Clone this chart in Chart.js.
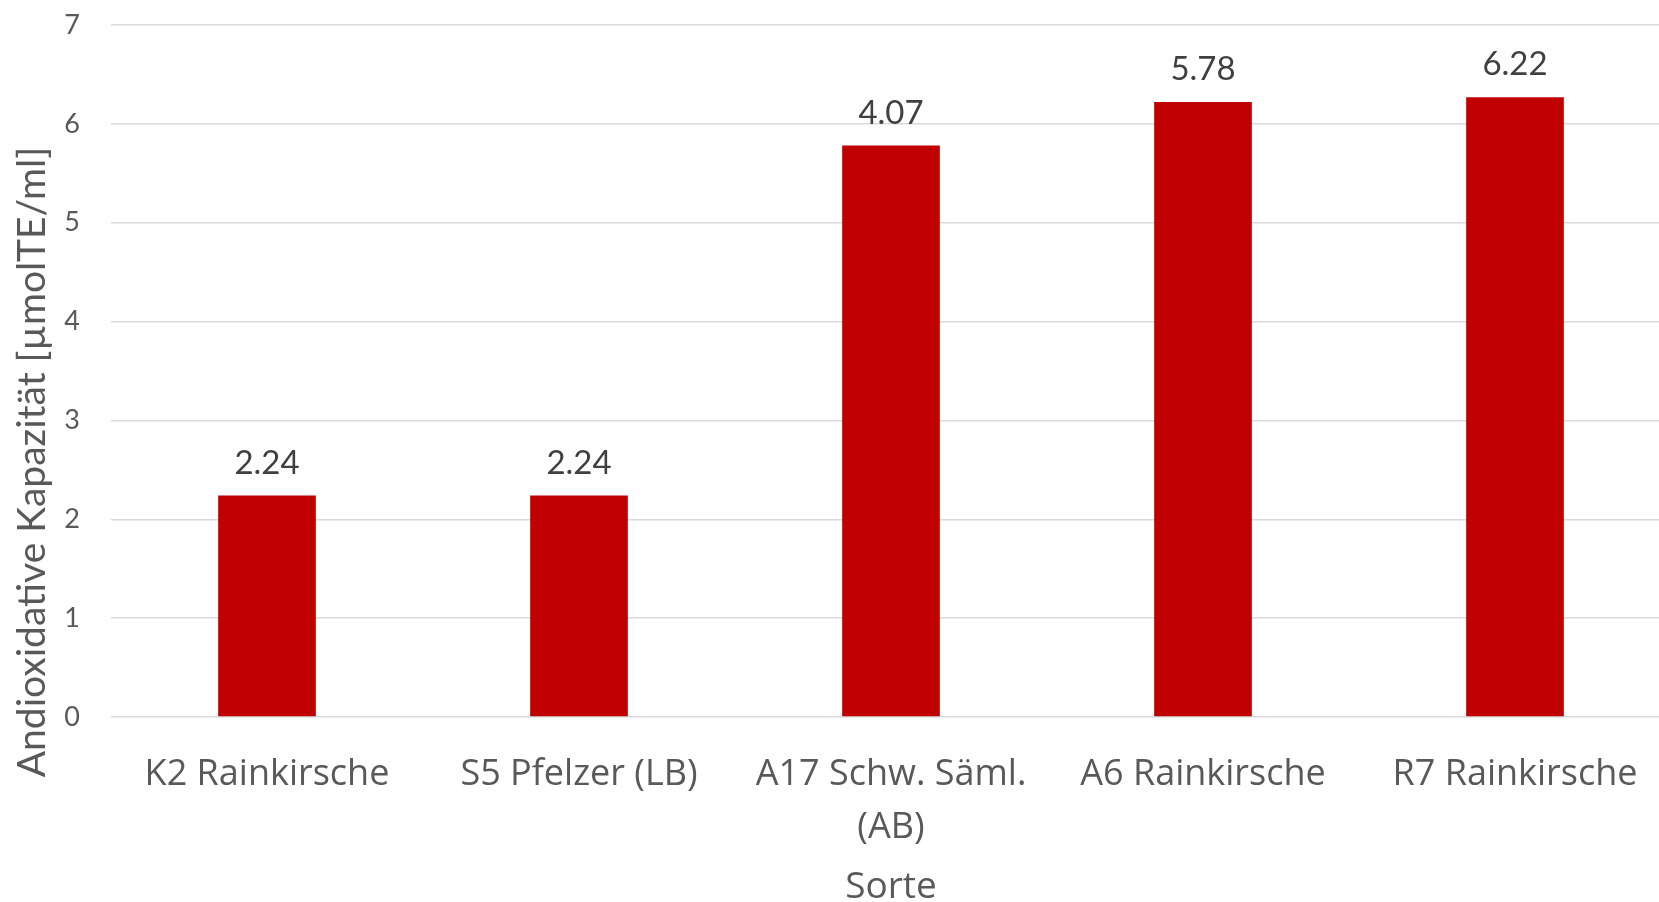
<!DOCTYPE html>
<html>
<head>
<meta charset="utf-8">
<script src="https://cdn.jsdelivr.net/npm/chart.js@4/dist/chart.umd.min.js"></script>
<style>
  html, body { margin: 0; padding: 0; background: #fff; overflow: hidden; }
  #chart { display: block; }
</style>
</head>
<body>
<canvas id="chart" width="1671" height="902"></canvas>
<script>
// Sorten und Werte (Balkenhöhen wie im Original, Beschriftungen wie im Original)
var sorten = ['K2 Rainkirsche', 'S5 Pfelzer (LB)', ['A17 Schw. Säml.', '(AB)'], 'A6 Rainkirsche', 'R7 Rainkirsche'];
var werte = [2.24, 2.24, 5.78, 6.22, 6.27];
var werteLabels = ['2.24', '2.24', '4.07', '5.78', '6.22'];
var yTicks = [0, 1, 2, 3, 4, 5, 6, 7];
var yTitel = 'Andioxidative Kapazität [µmolTE/ml]';
var xTitel = 'Sorte';

var grau = '#595959';

// Werte über den Balken
var datenLabels = {
  id: 'datenLabels',
  afterDatasetsDraw: function(chart) {
    var ctx = chart.ctx;
    var meta = chart.getDatasetMeta(0);
    ctx.save();
    ctx.font = '33px Lato';
    ctx.fillStyle = '#404040';
    ctx.textAlign = 'center';
    ctx.textBaseline = 'alphabetic';
    meta.data.forEach(function(bar, i) {
      ctx.fillText(werteLabels[i], bar.x, bar.y - 22);
    });
    ctx.restore();
  }
};

// Achsentitel links (im Original nicht mittig zur Achse)
var yAchsenTitel = {
  id: 'yAchsenTitel',
  afterDraw: function(chart) {
    var ctx = chart.ctx;
    ctx.save();
    ctx.translate(45, 462);
    ctx.rotate(-Math.PI / 2);
    ctx.font = '39px Lato';
    ctx.fillStyle = grau;
    ctx.textAlign = 'center';
    ctx.textBaseline = 'alphabetic';
    ctx.fillText(yTitel, 0, 0);
    ctx.restore();
  }
};

var config = {
  type: 'bar',
  plugins: [datenLabels, yAchsenTitel],
  data: {
    labels: sorten,
    datasets: [{
      data: werte,
      backgroundColor: '#C00000',
      borderWidth: 0,
      categoryPercentage: 1,
      barPercentage: 0.313
    }]
  },
  options: {
    responsive: false,
    devicePixelRatio: 1,
    animation: false,
    layout: {
      padding: { top: 25, left: 0, right: 0, bottom: 0 }
    },
    plugins: {
      legend: { display: false },
      tooltip: { enabled: false }
    },
    scales: {
      x: {
        grid: { display: false },
        border: { display: false },
        ticks: {
          color: grau,
          font: { family: 'Open Sans', size: 36, lineHeight: 1.45 },
          padding: 24,
          maxRotation: 0,
          autoSkip: false
        },
        title: {
          display: true,
          text: xTitel,
          color: grau,
          font: { family: 'Open Sans', size: 37, lineHeight: 1 },
          padding: { top: 0, bottom: -4 }
        },
        afterFit: function(scale) { scale.height = 185; }
      },
      y: {
        min: 0,
        max: 7,
        afterBuildTicks: function(scale) {
          scale.ticks = yTicks.map(function(v) { return { value: v }; });
        },
        grid: { color: '#d9d9d9', lineWidth: 1.5, drawTicks: false },
        border: { display: false },
        ticks: {
          color: grau,
          font: { family: 'Lato', size: 27 },
          padding: 31
        },
        afterFit: function(scale) {
          scale.width = 111;
          // Tick-Abstand nicht als Rand oben/unten verwenden
          scale.paddingTop = 0;
          scale.paddingBottom = 0;
        }
      }
    }
  }
};

var myChart = new Chart(document.getElementById('chart'), config);
</script>
</body>
</html>
